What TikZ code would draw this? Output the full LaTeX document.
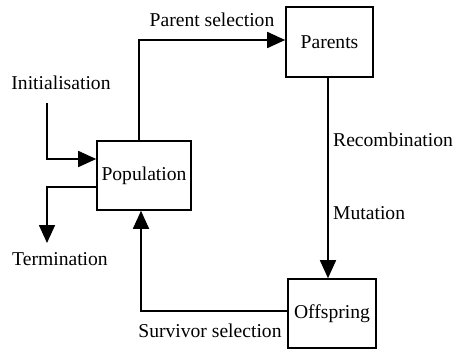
\documentclass[tikz,border=0pt]{standalone}
\usepackage{fontspec}
\setmainfont{Liberation Serif}
\usetikzlibrary{arrows.meta}
\begin{document}
\begin{tikzpicture}[x=1pt,y=-1pt,
  box/.style={draw,line width=1.6pt,inner sep=0pt},
  lbl/.style={inner sep=0pt,font=\fontsize{19.6}{23}\selectfont},
  conn/.style={line width=1.6pt,-{Triangle[length=18pt,width=16pt]}},
  plain/.style={line width=1.6pt}]
\useasboundingbox (0,0) rectangle (459,349);
\node[box,minimum width=94pt,minimum height=69pt] (pop) at (144,175.5) {};
\node[lbl] (poptxt) at (144,175.5) {Population};
\node[box,minimum width=87pt,minimum height=70pt] (par) at (329.5,42) {};
\node[lbl] (partxt) at (329.5,42) {Parents};
\node[box,minimum width=88pt,minimum height=69pt] (off) at (332,313.5) {};
\node[lbl] (offtxt) at (332,313.5) {Offspring};
\node[lbl] (init) at (61,83) {Initialisation};
\node[lbl] (term) at (60,259) {Termination};
\node[lbl] (psel) at (212,20) {Parent selection};
\node[lbl] (ssel) at (210,331) {Survivor selection};
\node[lbl,anchor=west] (rec) at (333,140) {Recombination};
\node[lbl,anchor=west] (mut) at (333,213) {Mutation};
\coordinate (istart) at (47,103);
\coordinate (tend) at (47,243);
\draw[conn] (istart) |- (pop.west |- 0,159);
\draw[conn] (pop.west |- 0,187) -| (tend);
\draw[conn] (pop.north -| 139,0) |- (par.west |- 0,40);
\draw[conn] (par.south -| 328,0) -- (off.north -| 328,0);
\draw[conn] (off.west |- 0,311) -| (pop.south -| 141,0);
\end{tikzpicture}
\end{document}
